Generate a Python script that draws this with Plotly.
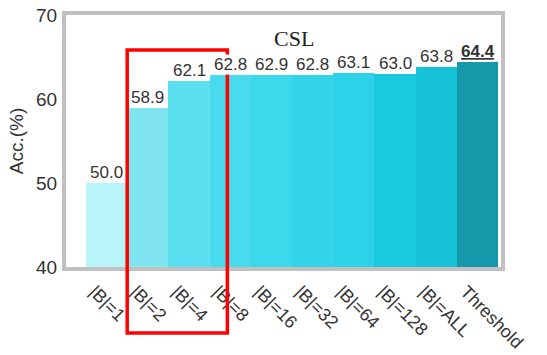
import plotly.graph_objects as go

categories = ["|B|=1", "|B|=2", "|B|=4", "|B|=8", "|B|=16", "|B|=32", "|B|=64", "|B|=128", "|B|=ALL", "Threshold"]
values = [50.0, 58.9, 62.1, 62.8, 62.9, 62.8, 63.1, 63.0, 63.8, 64.4]
value_labels = ["50.0", "58.9", "62.1", "62.8", "62.9", "62.8", "63.1", "63.0", "63.8", "<b><u>64.4</u></b>"]
colors = ["#b8f5f9", "#80e4f1", "#5ae0ef", "#47dbed", "#3cd8ec", "#33d5ea", "#2dd2e8",
          "#1bc9de", "#16c2d8", "#1598aa"]
y_ticks = [40, 50, 60, 70]

xpos = list(range(len(categories)))

fig = go.Figure()
fig.add_trace(go.Bar(x=xpos, y=values, width=1.0, marker=dict(color=colors, line=dict(width=0)),
                     showlegend=False, hoverinfo="skip"))

for xi, v, lab in zip(xpos, values, value_labels):
    fig.add_annotation(x=xi, y=v, text=lab, showarrow=False, xanchor="center", yanchor="bottom",
                       yshift=0, bgcolor="white", borderpad=0,
                       font=dict(family="Liberation Sans, Arial", size=17, color="#333333"))

fig.add_annotation(xref="paper", yref="paper", x=0.524, y=0.905, text="CSL", showarrow=False,
                   xanchor="center", yanchor="middle",
                   font=dict(family="Liberation Serif, Times New Roman", size=22, color="#222222"))

fig.add_shape(type="rect", xref="x", yref="paper", x0=0.5, x1=2.93, y0=-0.262, y1=0.861,
              line=dict(color="#ff0000", width=3.5), fillcolor="rgba(0,0,0,0)")

fig.update_layout(
    width=547, height=355,
    margin=dict(l=66, r=46, t=15, b=88),
    paper_bgcolor="white", plot_bgcolor="white",
    bargap=0,
    xaxis=dict(range=[-0.985, 9.57], tickmode="array", tickvals=xpos, ticktext=categories,
               tickangle=45, showgrid=False, zeroline=False, showline=True, mirror=True,
               linecolor="#c0c0c0", linewidth=4, ticks="", automargin=False,
               ticklabelshift=-12, ticklabelstandoff=3, ticklabeloverflow="allow",
               tickfont=dict(family="Liberation Sans, Arial", size=18, color="#333333")),
    yaxis=dict(range=[40, 70], tickmode="array", tickvals=y_ticks, showgrid=False, zeroline=False,
               showline=True, mirror=True, linecolor="#c0c0c0", linewidth=4, ticks="", automargin=False,
               ticklabeloverflow="allow", ticklabelstandoff=1,
               tickfont=dict(family="Liberation Sans, Arial", size=19, color="#333333"),
               title=dict(text="Acc.(%)", standoff=8,
                          font=dict(family="Liberation Sans, Arial", size=19, color="#333333"))),
)

fig.write_html("out.html", config={"displayModeBar": False},
               post_script="document.body.style.margin='0';")
